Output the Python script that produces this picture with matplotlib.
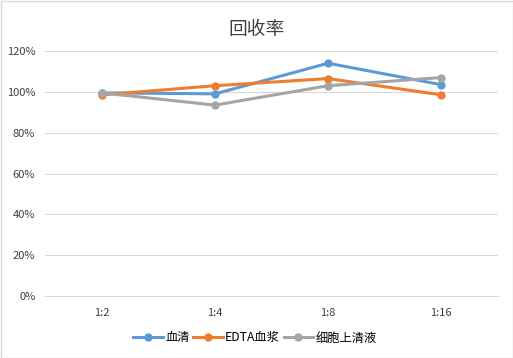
import matplotlib
matplotlib.use("Agg")
import matplotlib.pyplot as plt
from matplotlib.ticker import FuncFormatter

plt.rcParams['font.family'] = ['Noto Sans CJK SC', 'DejaVu Sans']

categories = ["1:2", "1:4", "1:8", "1:16"]
serum = [0.995, 0.99, 1.14, 1.035]
edta = [0.985, 1.03, 1.065, 0.985]
supernatant = [0.995, 0.935, 1.03, 1.07]
series_names = ["血清", "EDTA血浆", "细胞上清液"]
colors = ["#5B9BD5", "#ED7D31", "#A5A5A5"]

W, H = 513, 358
fig = plt.figure(figsize=(W/100, H/100), dpi=100)
ax = fig.add_axes([45/W, 1-296/H, 453/W, 245/H])

x = list(range(len(categories)))
for vals, name, c in zip([serum, edta, supernatant], series_names, colors):
    ax.plot(x, vals, color=c, lw=2.2, marker='o', ms=5, label=name)

ax.set_xlim(-0.5, len(categories)-0.5)
ax.set_ylim(0, 1.2)
ax.set_yticks([i*0.2 for i in range(7)])
ax.yaxis.set_major_formatter(FuncFormatter(lambda v, p: f"{round(v*100)}%"))
ax.set_xticks(x)
ax.set_xticklabels(categories)
ax.grid(axis='y', color='#D9D9D9', lw=0.8)
ax.set_axisbelow(True)
for s in ['top', 'right', 'left']:
    ax.spines[s].set_visible(False)
ax.spines['bottom'].set_color('#D9D9D9')
ax.tick_params(axis='both', length=0, labelsize=8, colors='#404040', pad=7)
ax.tick_params(axis='x', pad=9)

fig.text(0.5, 1-30/H, "回收率", ha='center', va='center', fontsize=13.5, color='#404040')
fig.legend(loc='center', bbox_to_anchor=(255/W, 1-338/H), ncol=3, frameon=False,
           fontsize=8.8, handlelength=2.4, columnspacing=0.3, handletextpad=0.2)

fig.patches.append(plt.Rectangle((0.5/W, 0.5/H), 1-1/W, 1-1/H, transform=fig.transFigure,
                                 fill=False, edgecolor='#D9D9D9', lw=1))
fig.savefig("out.png", dpi=100)
